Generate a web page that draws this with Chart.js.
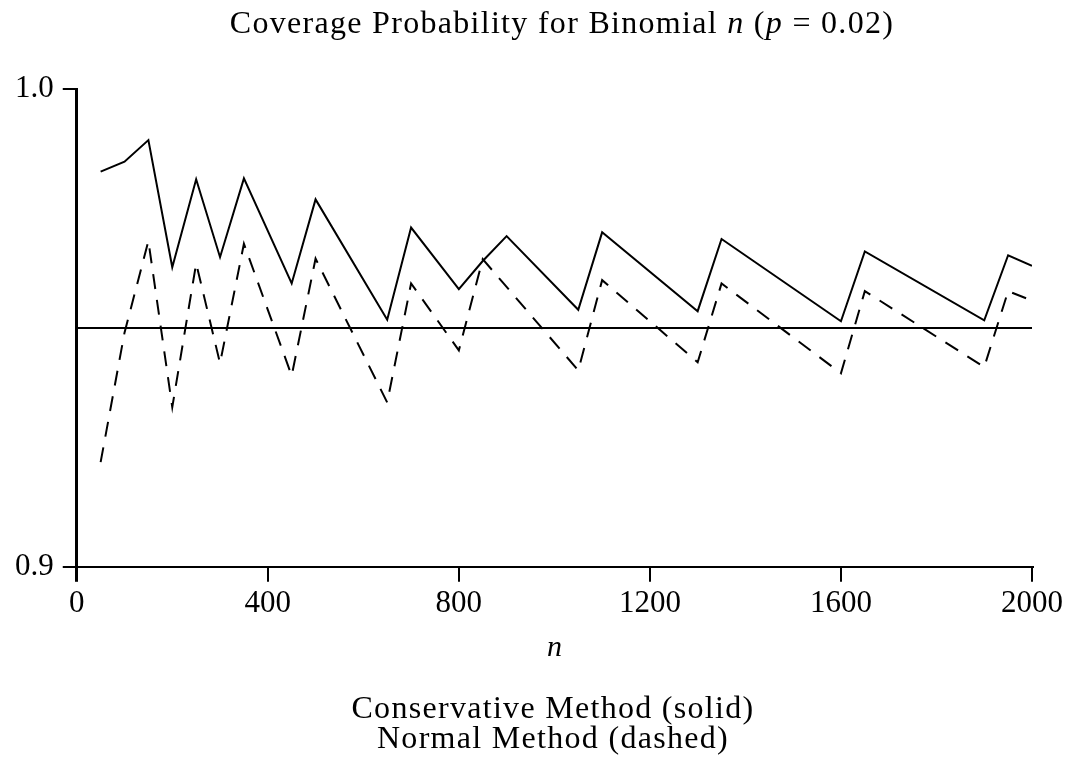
<!DOCTYPE html>
<html lang="en">
<head>
    <meta charset="UTF-8">
    <title>Coverage Probability for Binomial n</title>
    <script src="https://cdn.jsdelivr.net/npm/chart.js"></script>
    <style>
        body {
            margin: 0;
            padding: 0;
            background-color: #ffffff;
        }
        .wrap {
            position: relative;
            width: 1072px;
            height: 759px;
            font-family: "Liberation Serif", "DejaVu Serif", serif;
            color: #000;
        }
        #chart {
            position: absolute;
            left: 0;
            top: 0;
        }
        .title {
            position: absolute;
            left: 162px;
            width: 800px;
            top: 7px;
            text-align: center;
            font-size: 32px;
            line-height: 30px;
            letter-spacing: 1.3px;
            white-space: nowrap;
        }
        .caption {
            position: absolute;
            left: 153px;
            width: 800px;
            top: 692px;
            text-align: center;
            font-size: 32px;
            line-height: 30px;
            letter-spacing: 1.3px;
        }
    </style>
</head>
<body>
    <div class="wrap">
        <canvas id="chart" width="1072" height="759"></canvas>
        <div class="title">Coverage Probability for Binomial <i>n</i> (<i>p</i> = 0.02)</div>
        <div class="caption">Conservative Method (solid)<br>Normal Method (dashed)</div>
    </div>

    <script>
        // sample sizes and coverage
        const nSolid = [50, 100, 150, 200, 250, 300, 350, 450, 500, 650, 700, 800, 850, 900,
                        1050, 1100, 1300, 1350, 1600, 1650, 1900, 1950, 2000];
        const conservative = [0.9827, 0.9848, 0.9893, 0.9627, 0.9811, 0.9648, 0.9813, 0.9593, 0.9769,
                              0.9517, 0.9710, 0.9581, 0.9640, 0.9692, 0.9538, 0.9700, 0.9535, 0.9686,
                              0.9514, 0.9660, 0.9516, 0.9652, 0.9630];

        const nDashed = [50, 100, 150, 200, 250, 300, 350, 450, 500, 650, 700, 800, 850,
                         1050, 1100, 1300, 1350, 1600, 1650, 1900, 1950, 2000];
        const normal = [0.9219, 0.9490, 0.9682, 0.9334, 0.9635, 0.9426, 0.9676, 0.9400, 0.9645,
                        0.9344, 0.9593, 0.9453, 0.9644, 0.9411, 0.9600, 0.9428, 0.9593, 0.9405,
                        0.9577, 0.9418, 0.9577, 0.9557];

        const nominalN = [0, 2000];
        const nominal = [0.95, 0.95];

        const xTicks = [0, 400, 800, 1200, 1600, 2000];
        const yTicks = [0.9, 1.0];

        const toPoints = (xs, ys) => xs.map((x, i) => ({ x: x, y: ys[i] }));
        const font = { family: '"Liberation Serif", "DejaVu Serif", serif', size: 31 };

        new Chart(document.getElementById('chart'), {
            type: 'line',
            data: {
                datasets: [
                    {
                        label: 'Conservative Method (solid)',
                        data: toPoints(nSolid, conservative),
                        borderColor: '#000',
                        borderWidth: 2,
                        pointRadius: 0,
                        tension: 0
                    },
                    {
                        label: 'Normal Method (dashed)',
                        data: toPoints(nDashed, normal),
                        borderColor: '#000',
                        borderWidth: 2,
                        borderDash: [15, 11],
                        pointRadius: 0,
                        tension: 0
                    },
                    {
                        label: 'Nominal 0.95',
                        data: toPoints(nominalN, nominal),
                        borderColor: '#000',
                        borderWidth: 2,
                        pointRadius: 0
                    }
                ]
            },
            options: {
                responsive: false,
                animation: false,
                layout: {
                    padding: { left: 6, right: 40, top: 89, bottom: 93 }
                },
                plugins: {
                    legend: { display: false },
                    tooltip: { enabled: false }
                },
                scales: {
                    x: {
                        type: 'linear',
                        min: 0,
                        max: 2000,
                        afterBuildTicks: (scale) => {
                            scale.ticks = xTicks.map(v => ({ value: v }));
                        },
                        ticks: {
                            color: '#000',
                            font: font,
                            padding: 3,
                            maxRotation: 0,
                            callback: (v) => String(v)
                        },
                        grid: {
                            drawOnChartArea: false,
                            tickLength: 15,
                            tickColor: '#000',
                            lineWidth: (ctx) => ctx.index === 0 ? 3 : 2
                        },
                        border: { color: '#000', width: 2 },
                        title: {
                            display: true,
                            text: 'n',
                            color: '#000',
                            font: { family: font.family, size: 30, style: 'italic' },
                            padding: { top: 5, bottom: 0 }
                        }
                    },
                    y: {
                        type: 'linear',
                        min: 0.9,
                        max: 1.0,
                        afterBuildTicks: (scale) => {
                            scale.ticks = yTicks.map(v => ({ value: v }));
                        },
                        ticks: {
                            color: '#000',
                            font: font,
                            padding: 9,
                            callback: (v) => v.toFixed(1)
                        },
                        grid: {
                            drawOnChartArea: false,
                            tickLength: 14,
                            tickColor: '#000',
                            lineWidth: 2
                        },
                        border: { color: '#000', width: 3 }
                    }
                }
            }
        });
    </script>
</body>
</html>
